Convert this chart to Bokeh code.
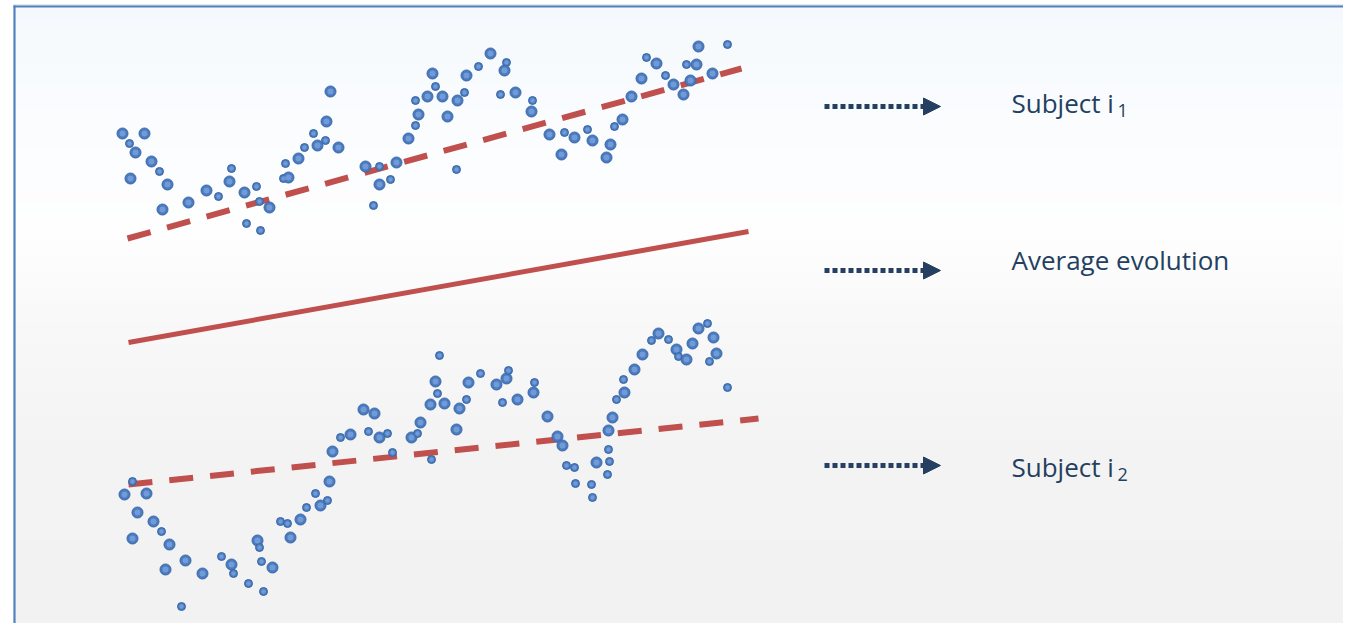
import numpy as np
from bokeh.plotting import figure
from bokeh.models import Range1d, ColumnDataSource, Arrow, NormalHead
from bokeh.core.properties import value
from bokeh.embed import file_html
from bokeh.resources import INLINE

# ---- data (screen-like units: x = time, y = response, y axis inverted)
s1_x = [122,129,135,144,130,151,159,167,162,188,206,218,231,229,244,256,259,269,246,260,
        283,288,285,298,304,313,317,325,326,338,330,365,373,379,379,390,396,408,415,418,
        415,427,432,435,442,447,457,464,466,478,490,506,504,500,515,456,532,531,549,564,
        561,574,587,592,610,606,614,622,631,641,646,656,665,673,683,686,696,690,712,698,727]
s1_y = [133,143,152,133,178,161,171,184,209,202,190,196,168,181,192,186,201,207,223,230,
        178,177,163,158,147,133,145,140,121,147,91,166,205,166,184,179,162,138,125,114,
        100,96,73,86,96,116,100,92,75,66,53,62,70,94,92,169,100,111,134,132,
        154,137,129,140,144,157,126,119,96,78,57,63,75,84,94,64,64,80,73,46,44]
s1_big = [1,0,1,1,1,1,0,1,1,1,1,0,0,1,1,0,0,1,0,0,
          0,1,0,1,0,0,1,0,1,1,1,1,0,0,1,0,1,1,0,1,
          0,1,1,0,1,1,1,0,1,0,1,0,1,0,1,0,0,1,1,0,
          1,1,0,1,1,1,0,1,1,1,0,1,0,1,1,0,1,1,1,1,0]

s2_x = [132,124,146,137,153,161,132,169,165,185,202,181,221,231,233,248,257,259,261,272,
        263,280,287,290,300,306,315,320,327,329,332,340,350,363,374,368,379,387,392,411,
        417,420,430,437,435,439,444,456,431,459,466,468,480,496,502,506,508,517,533,534,
        547,557,562,566,574,575,591,592,596,607,609,608,608,612,616,624,623,634,642,651,
        658,668,676,678,686,692,698,707,713,716,709,727]
s2_y = [481,494,493,512,521,531,538,544,569,560,573,606,556,564,573,583,540,547,561,567,
        591,521,523,537,519,507,493,505,500,481,451,437,434,409,413,431,437,433,452,437,
        433,422,404,393,381,355,403,429,459,408,399,382,373,384,402,378,370,399,392,382,
        416,436,445,465,467,483,484,497,462,474,461,449,430,417,399,392,379,369,354,340,
        333,339,349,356,359,343,328,323,337,353,361,387]
s2_big = [0,1,1,1,1,0,1,1,1,1,1,0,0,1,0,0,1,0,0,1,
          0,0,0,1,1,0,0,1,0,1,1,0,1,1,1,0,1,0,0,1,
          0,1,1,0,1,0,1,1,0,1,0,1,0,1,0,1,0,1,1,0,
          1,1,1,0,0,0,0,0,1,0,0,0,1,1,0,1,0,1,1,0,
          1,0,1,0,1,1,1,0,1,1,0,0]

trend1_x = [127, 741]
trend1_y = [238, 68]
avg_x = [128, 748]
avg_y = [342, 231]
trend2_x = [128, 758]
trend2_y = [484, 418]

labels = ["Subject i", "Average evolution", "Subject i"]
label_x = [1011, 1011, 1011]
label_y = [102, 259, 466]
subs = ["1", "2"]
sub_x = [1117, 1117]
sub_y = [110, 474]
arrow_x0 = [824, 824, 824]
arrow_x1 = [940, 940, 940]
arrow_y = [106, 270, 465]

W, H = 1343, 623
p = figure(width=W, height=H, x_range=Range1d(0, W), y_range=Range1d(H, 0),
           output_backend="svg", toolbar_location=None, min_border=0)
p.axis.visible = False
p.grid.visible = False
p.outline_line_color = None
p.background_fill_color = "white"
p.border_fill_color = "white"

# gradient background (style only)
stops_y = np.array([7, 120, 230, 330, 450, 631], dtype=float)
stops_c = np.array([[245, 249, 253], [250, 252, 254], [254, 254, 254],
                    [248, 248, 248], [243, 243, 243], [242, 242, 242]], dtype=float)
edges = np.arange(7, 627, 3, dtype=float)
tops, bots = edges[:-1], edges[1:] + 0.5
mids = (tops + bots) / 2
cols = []
for m in mids:
    r = np.interp(m, stops_y, stops_c[:, 0]); g = np.interp(m, stops_y, stops_c[:, 1]); b = np.interp(m, stops_y, stops_c[:, 2])
    cols.append("#%02x%02x%02x" % (int(round(r)), int(round(g)), int(round(b))))
p.quad(left=15, right=W + 2, top=tops, bottom=bots, fill_color=cols, line_color=None)

# frame
p.line([13, W + 2], [4.5, 4.5], line_color="#c5d3e8", line_width=1)
p.line([14, 14], [5, H + 2], line_color="#4f81bd", line_width=2.2)
p.line([13, W + 2], [6, 6], line_color="#4f81bd", line_width=2.2)

RED = "#c0504d"
p.line(trend1_x, trend1_y, line_color=RED, line_width=6, line_dash="24 17")
p.line(avg_x, avg_y, line_color=RED, line_width=5)
p.line(trend2_x, trend2_y, line_color=RED, line_width=6, line_dash="24 17")

def pts(xs, ys, big):
    big = np.array(big)
    sizes = np.where(big == 1, 11.0, 8.0)
    src = ColumnDataSource(dict(x=xs, y=ys, s=sizes, s2=sizes * 0.55))
    p.scatter("x", "y", size="s", source=src, fill_color="#4a7bc0", line_color="#3a68a8", line_width=1)
    p.scatter("x", "y", size="s2", source=src, fill_color="#7aa2dc", line_color=None, fill_alpha=0.8)

pts(s1_x, s1_y, s1_big)
pts(s2_x, s2_y, s2_big)

NAVY = "#243f60"
for x0, x1, y in zip(arrow_x0, arrow_x1, arrow_y):
    p.add_layout(Arrow(end=NormalHead(size=17, fill_color=NAVY, line_color=NAVY, line_width=1),
                       x_start=x0, y_start=y, x_end=x1, y_end=y,
                       line_color=NAVY, line_width=5, line_dash="5 3"))

p.text(x=label_x, y=label_y, text=labels, text_font=value("Open Sans"), text_font_size="26px",
       text_color=NAVY, text_baseline="alphabetic", text_align="left")
p.text(x=sub_x, y=sub_y, text=subs, text_font=value("Open Sans"), text_font_size="18px",
       text_color=NAVY, text_baseline="alphabetic", text_align="left")

open("out.html", "w").write(file_html(p, INLINE))
